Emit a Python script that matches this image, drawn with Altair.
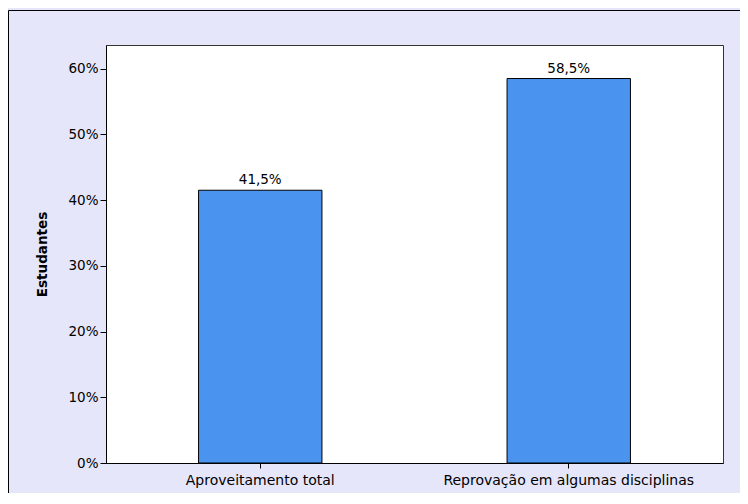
import altair as alt
import pandas as pd

categories = ["Aproveitamento total", "Reprovação em algumas disciplinas"]
values = [41.5, 58.5]
labels = ["41,5%", "58,5%"]
y_ticks = [0, 10, 20, 30, 40, 50, 60]

df = pd.DataFrame({"cat": categories, "val": values, "lab": labels})

FONT = "DejaVu Sans"
W, H = 617, 418

x = alt.X("cat:N", sort=categories, title=None,
          scale=alt.Scale(paddingInner=0.6, paddingOuter=0.3),
          axis=alt.Axis(labelAngle=0, labelFont=FONT, labelFontSize=14, labelColor="#000",
                        labelLimit=0, tickColor="#000", tickSize=5, domainColor="#000",
                        labelPadding=5))
y = alt.Y("val:Q", title="Estudantes",
          scale=alt.Scale(domain=[0, 63.6], nice=False),
          axis=alt.Axis(values=y_ticks, labelExpr="datum.value + '%'", grid=False,
                        labelFont=FONT, labelFontSize=13.5, labelColor="#000",
                        tickColor="#000", tickSize=6, domainColor="#000", labelPadding=2,
                        titleFont=FONT, titleFontSize=13.5, titleFontWeight="bold", titleColor="#000",
                        titleX=-64, titleBaseline="middle", titleAngle=-90))

frame = alt.Chart(pd.DataFrame({"a": [0]})).mark_rect(
    fill=None, stroke="#000", strokeWidth=1, clip=False
).encode(x=alt.value(-97.5), x2=alt.value(W + 60), y=alt.value(-34.5), y2=alt.value(H + 80))

bars = alt.Chart(df).mark_bar(color="#4a94f0", stroke="#000", strokeWidth=1).encode(x=x, y=y)
text = alt.Chart(df).mark_text(dy=-3, baseline="bottom", font=FONT, fontSize=13.5, color="#000").encode(
    x=alt.X("cat:N", sort=categories), y="val:Q", text="lab:N")

chart = alt.layer(frame, bars, text).properties(
    width=W, height=H,
    autosize=alt.AutoSizeParams(type="none"),
    padding={"left": 98, "top": 37, "right": 17, "bottom": 30},
    background="#e6e6fa",
).configure_view(stroke="#333", strokeWidth=1, fill="#ffffff")

chart.save("out.html", embed_options={"renderer": "svg", "actions": False})
